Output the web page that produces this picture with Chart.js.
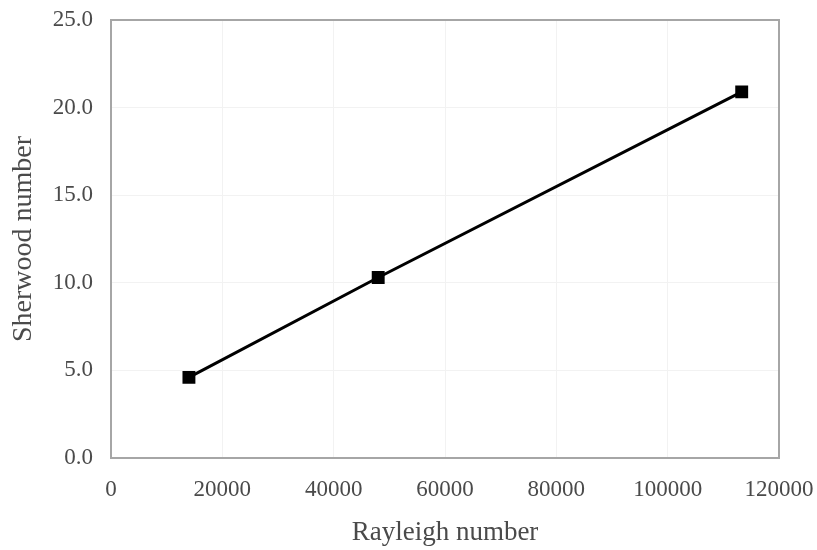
<!DOCTYPE html>
<html>
<head>
<meta charset="utf-8">
<script src="https://cdn.jsdelivr.net/npm/chart.js@4"></script>
<style>
  body { margin: 0; background: #fff; }
</style>
</head>
<body>
<canvas id="chart" width="817" height="550"></canvas>
<script>
// values
const rayleigh = [14000, 48000, 113300];
const sherwood = [4.6, 10.3, 20.9];
const xTitle = 'Rayleigh number';
const yTitle = 'Sherwood number';

const fontFamily = '"Liberation Serif", "DejaVu Serif", serif';
const textColor = '#4a4a4a';

// draws the grey frame round the plot area
const frame = {
  id: 'frame',
  afterDraw(chart) {
    const { ctx, chartArea: a } = chart;
    ctx.save();
    ctx.strokeStyle = '#a6a6a6';
    ctx.lineWidth = 2;
    ctx.strokeRect(a.left, a.top, a.right - a.left, a.bottom - a.top);
    ctx.restore();
  }
};

new Chart(document.getElementById('chart'), {
  type: 'line',
  data: {
    datasets: [{
      data: rayleigh.map((x, i) => ({ x: x, y: sherwood[i] })),
      borderColor: '#000',
      backgroundColor: '#000',
      borderWidth: 3,
      pointStyle: 'rect',
      pointRadius: 7,
      pointHoverRadius: 7,
      tension: 0
    }]
  },
  options: {
    responsive: false,
    animation: false,
    devicePixelRatio: 1,
    layout: { padding: { top: 20, right: 38, left: 0, bottom: 0 } },
    plugins: { legend: { display: false }, tooltip: { enabled: false } },
    scales: {
      x: {
        type: 'linear',
        min: 0,
        max: 120000,
        ticks: {
          stepSize: 20000,
          autoSkip: false,
          color: textColor,
          font: { family: fontFamily, size: 23 },
          padding: 18,
          maxRotation: 0,
          callback: v => String(v)
        },
        grid: { color: '#f2f2f2', drawTicks: false },
        border: { display: false },
        title: {
          display: true,
          text: xTitle,
          color: textColor,
          font: { family: fontFamily, size: 27, lineHeight: 1 },
          padding: { top: 2 }
        },
        afterFit(s) {
          s.height = 92;
          s.paddingLeft = 0;
          s.paddingRight = 0;
        }
      },
      y: {
        min: 0,
        max: 25,
        ticks: {
          stepSize: 5,
          color: textColor,
          font: { family: fontFamily, size: 23 },
          padding: 18,
          callback: v => v.toFixed(1)
        },
        grid: { color: '#f2f2f2', drawTicks: false },
        border: { display: false },
        title: {
          display: true,
          text: yTitle,
          color: textColor,
          font: { family: fontFamily, size: 28, lineHeight: 1 },
          padding: { top: 10 }
        },
        afterFit(s) {
          s.width = 111;
          s.paddingTop = 0;
          s.paddingBottom = 0;
        }
      }
    }
  },
  plugins: [frame]
});
</script>
</body>
</html>
